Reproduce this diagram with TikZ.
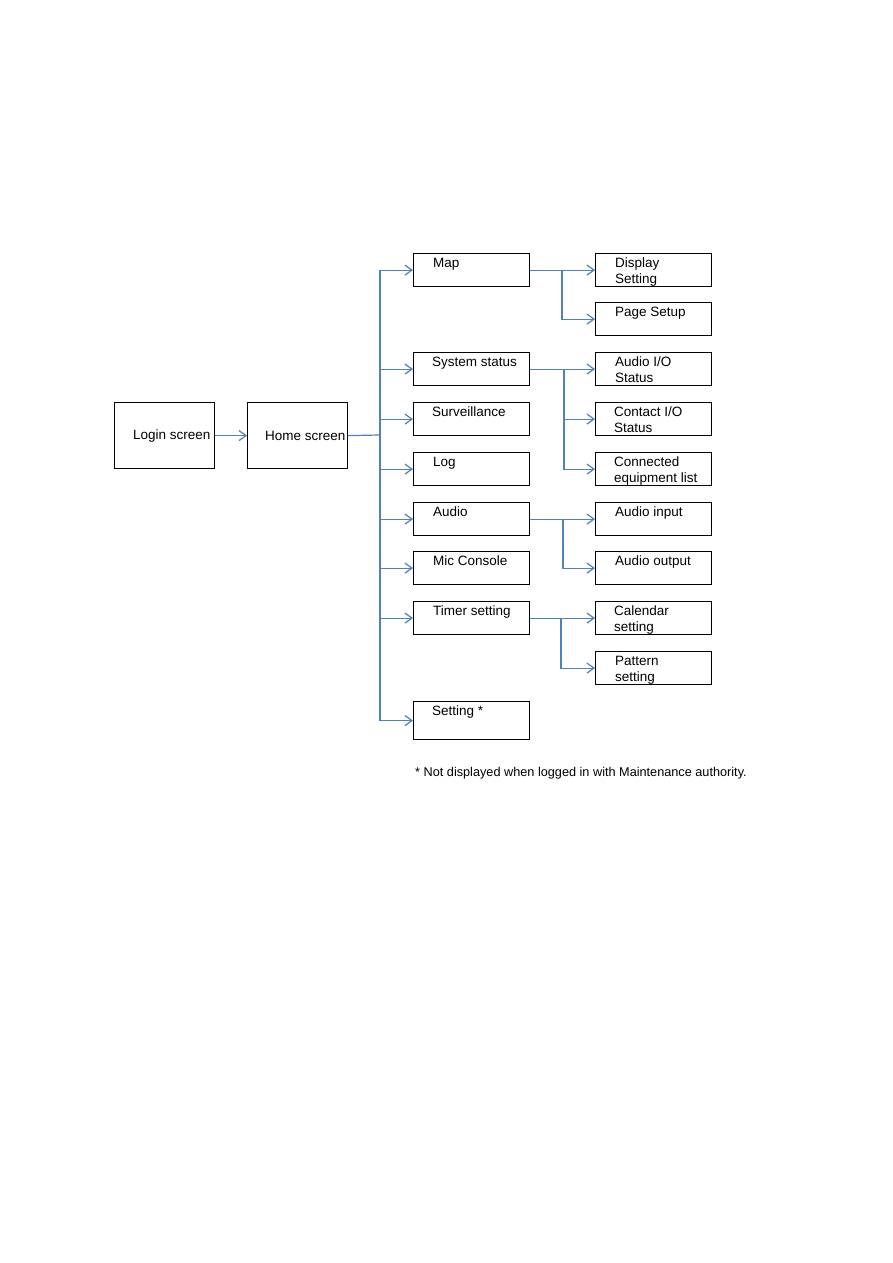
\documentclass[tikz,border=0pt]{standalone}
\usepackage{fontspec}
\setmainfont{Liberation Sans}
\usetikzlibrary{arrows.meta,calc}
\definecolor{conn}{RGB}{79,129,189}
\tikzset{
  box/.style={draw=black,line width=1.2pt,rectangle,inner sep=0pt,anchor=north west,minimum width=116pt,minimum height=33pt},
  bigbox/.style={draw=black,line width=1.2pt,rectangle,inner sep=0pt,anchor=north west,minimum width=100pt,minimum height=66pt},
  txt/.style={inner sep=0pt,anchor=base west,font=\fontsize{13.5}{16}\selectfont,align=left},
  ln/.style={draw=conn,line width=1.2pt},
  arr/.style={ln,-{Straight Barb[length=7pt,width=10pt,line width=1.2pt]}},
}
\begin{document}
\begin{tikzpicture}[x=1pt,y=-1pt]
\fill[white] (0,0) rectangle (893,1263);
\useasboundingbox (0,0) rectangle (893,1263);
% left boxes
\node[bigbox] (login) at (114,402) {};
\node[bigbox] (home) at (247,402) {};
\node[txt,anchor=west] at (133,436) {Login screen};
\node[txt,anchor=west] at (265,436) {Home screen};
% middle column
\node[box] (map) at (413,253) {};
\node[box] (sys) at (413,352) {};
\node[box] (surv) at (413,402) {};
\node[box] (log) at (413,452) {};
\node[box] (aud) at (413,502) {};
\node[box] (mic) at (413,551) {};
\node[box] (tim) at (413,601) {};
\node[box,minimum height=38pt] (set) at (413,701) {};
% right column
\node[box] (disp) at (595,253) {};
\node[box] (page) at (595,302) {};
\node[box] (aio) at (595,352) {};
\node[box] (cio) at (595,402) {};
\node[box] (conl) at (595,452) {};
\node[box] (ain) at (595,502) {};
\node[box] (aout) at (595,551) {};
\node[box] (cal) at (595,601) {};
\node[box] (pat) at (595,651) {};
% single-line texts
\node[txt] at ($(map.north west)+(20,14)$) {Map};
\node[txt] at ($(sys.north west)+(19,14)$) {System status};
\node[txt] at ($(surv.north west)+(19,14)$) {Surveillance};
\node[txt] at ($(log.north west)+(20,14)$) {Log};
\node[txt] at ($(aud.north west)+(20,14)$) {Audio};
\node[txt] at ($(mic.north west)+(20,14)$) {Mic Console};
\node[txt] at ($(tim.north west)+(20,14)$) {Timer setting};
\node[txt] at ($(set.north west)+(19,14)$) {Setting *};
\node[txt] at ($(page.north west)+(20,14)$) {Page Setup};
\node[txt] at ($(ain.north west)+(20,14)$) {Audio input};
\node[txt] at ($(aout.north west)+(20,14)$) {Audio output};
% two-line texts (base = last line)
\node[txt] at ($(disp.north west)+(20,30)$) {Display\\Setting};
\node[txt] at ($(aio.north west)+(20,30)$) {Audio I/O\\Status};
\node[txt] at ($(cio.north west)+(19,30)$) {Contact I/O\\Status};
\node[txt] at ($(conl.north west)+(19,30)$) {Connected\\equipment list};
\node[txt] at ($(cal.north west)+(19,30)$) {Calendar\\setting};
\node[txt] at ($(pat.north west)+(20,30)$) {Pattern\\setting};
% connectors
\coordinate (tk) at (380,435);
\coordinate (mj) at (562,0);
\coordinate (sj) at (564,0);
\coordinate (aj) at (563,0);
\coordinate (tj) at (561,0);
\draw[arr] (login.east) -- (home.west);
\draw[ln] (home.east) -- (tk);
\draw[ln] (tk |- map.west) -- (tk |- set.west);
\foreach \n in {map,sys,surv,log,aud,mic,tim,set}
  {\draw[arr] (tk |- \n.west) -- (\n.west);}
\draw[arr] (map.east) -- (disp.west);
\draw[arr] (mj |- map.east) |- (page.west);
\draw[arr] (sys.east) -- (sj |- sys.east) |- (aio.west);
\draw[arr] (sj |- sys.east) |- (cio.west);
\draw[arr] (sj |- sys.east) |- (conl.west);
\draw[arr] (aud.east) -- (ain.west);
\draw[arr] (aj |- aud.east) |- (aout.west);
\draw[arr] (tim.east) -- (cal.west);
\draw[arr] (tj |- tim.east) |- (pat.west);
% footnote
\node[inner sep=0pt,anchor=base west,font=\fontsize{12.7}{15}\selectfont] (note) at (415,776) {* Not displayed when logged in with Maintenance authority.};
\end{tikzpicture}
\end{document}
